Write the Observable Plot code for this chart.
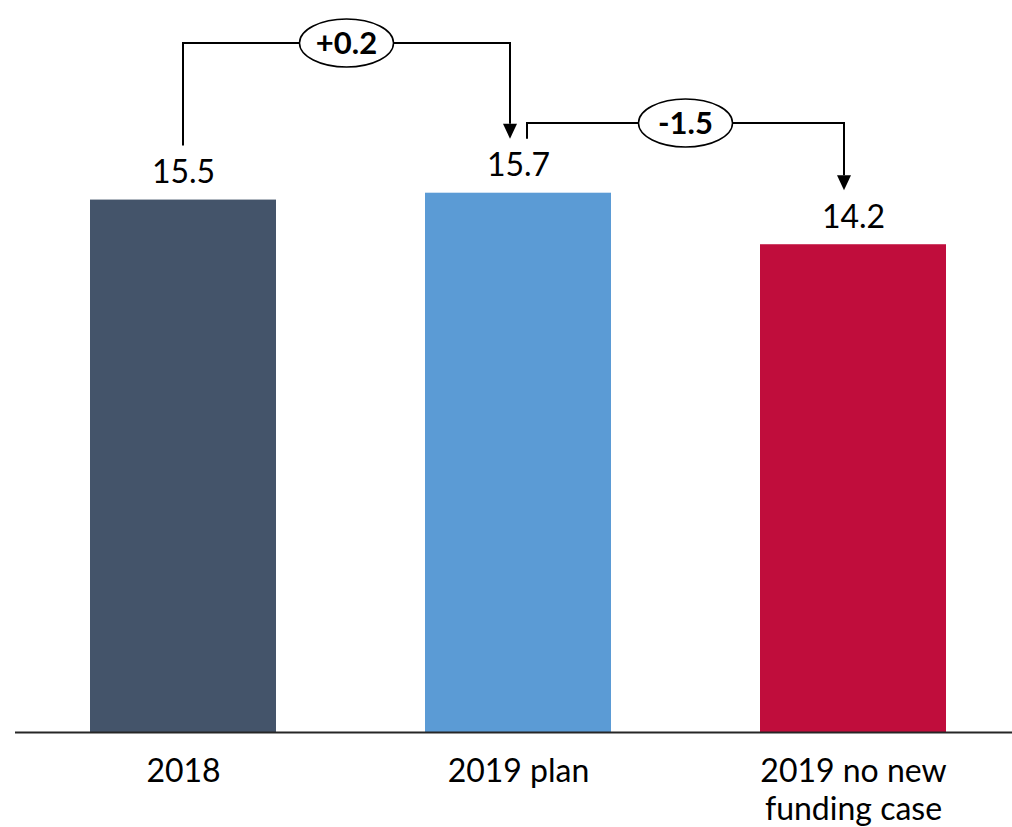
<!DOCTYPE html>
<html>
<head>
<meta charset="utf-8">
<script src="https://cdn.jsdelivr.net/npm/d3@7"></script>
<script src="https://cdn.jsdelivr.net/npm/@observablehq/plot@0.6"></script>
<style>
  html, body { margin: 0; padding: 0; background: #fff; }
  #chart svg { display: block; }
</style>
</head>
<body>
<div id="chart"></div>
<script>
// ---- data ----
const categories = ["2018", "2019 plan", "2019 no new funding case"];
const axisLabels = ["2018", "2019 plan", "2019 no new\nfunding case"];
const values = [15.5, 15.7, 14.2];
// bridges between consecutive bars (from index -> to index)
const bridgeFrom = [0, 1];
const bridgeTo = [1, 2];

// ---- styles ----
const palette = ["#44546a", "#5b9bd5", "#c00d3c"];
const font = "Lato, 'Open Sans', sans-serif";

const data = categories.map((c, i) => ({cat: c, label: axisLabels[i], value: values[i]}));

// annotation layout (pixels)
const gapAboveBar = 54;        // bracket ends this far above bar tops
const bracketLevel = [43, 123]; // y pixel of each bracket's horizontal line
const endOffsetL = [0, 9];      // horizontal offset of left end from bar center
const endOffsetR = [-8, -9];    // horizontal offset of arrow from bar center

function fmtDelta(d) {
  return (d > 0 ? "+" : "") + d.toFixed(1);
}

const bridges = (index, scales) => {
  const xs = scales.x, ys = scales.y;
  const bw = xs.bandwidth ? xs.bandwidth() : 0;
  const cx = c => xs(c) + bw / 2;
  const g = d3.create("svg:g");
  bridgeFrom.forEach((a, k) => {
    const b = bridgeTo[k];
    const x1 = cx(categories[a]) + endOffsetL[k];
    const x2 = cx(categories[b]) + endOffsetR[k];
    const yStart = ys(values[a]) - gapAboveBar;
    const yTip = ys(values[b]) - gapAboveBar;
    const yl = bracketLevel[k];
    const ah = 15, aw = 7;
    g.append("path")
      .attr("d", `M${x1},${yStart}V${yl}H${x2}V${yTip - ah}`)
      .attr("fill", "none")
      .attr("stroke", "#000")
      .attr("stroke-width", 2);
    g.append("path")
      .attr("d", `M${x2},${yTip}L${x2 - aw},${yTip - ah}L${x2 + aw},${yTip - ah}Z`)
      .attr("fill", "#000");
    const mx = (x1 + x2) / 2;
    g.append("ellipse")
      .attr("cx", mx).attr("cy", yl)
      .attr("rx", 47).attr("ry", 24)
      .attr("fill", "#fff")
      .attr("stroke", "#000")
      .attr("stroke-width", 1.5);
    g.append("text")
      .attr("x", mx).attr("y", yl)
      .attr("dy", "0.36em")
      .attr("text-anchor", "middle")
      .attr("font-family", font)
      .attr("font-weight", "bold")
      .attr("font-size", 31)
      .attr("fill", "#000")
      .text(fmtDelta(values[b] - values[a]));
  });
  return g.node();
};

const chart = Plot.plot({
  width: 1012,
  height: 827,
  marginLeft: 15,
  marginRight: 0,
  marginTop: 0,
  marginBottom: 95,
  style: {fontFamily: font, background: "#fff"},
  x: {domain: categories, paddingInner: 0.446, paddingOuter: 0.2086, align: 0.529, axis: null},
  y: {domain: [0, 21.31], axis: null},
  color: {domain: categories, range: palette},
  marks: [
    Plot.barY(data, {x: "cat", y: "value", fill: "cat"}),
    Plot.ruleY([0], {stroke: "#262626", strokeWidth: 2}),
    Plot.text(data, {
      x: "cat", y: "value", text: d => d.value.toFixed(1),
      lineAnchor: "bottom", dy: -17, fontSize: 32, fill: "#000"
    }),
    Plot.text(data, {
      x: "cat", y: () => 0, text: "label",
      lineAnchor: "top", dy: 22, lineHeight: 1.2, fontSize: 32, fill: "#000"
    }),
    bridges
  ]
});
document.getElementById("chart").appendChild(chart);
</script>
</body>
</html>
